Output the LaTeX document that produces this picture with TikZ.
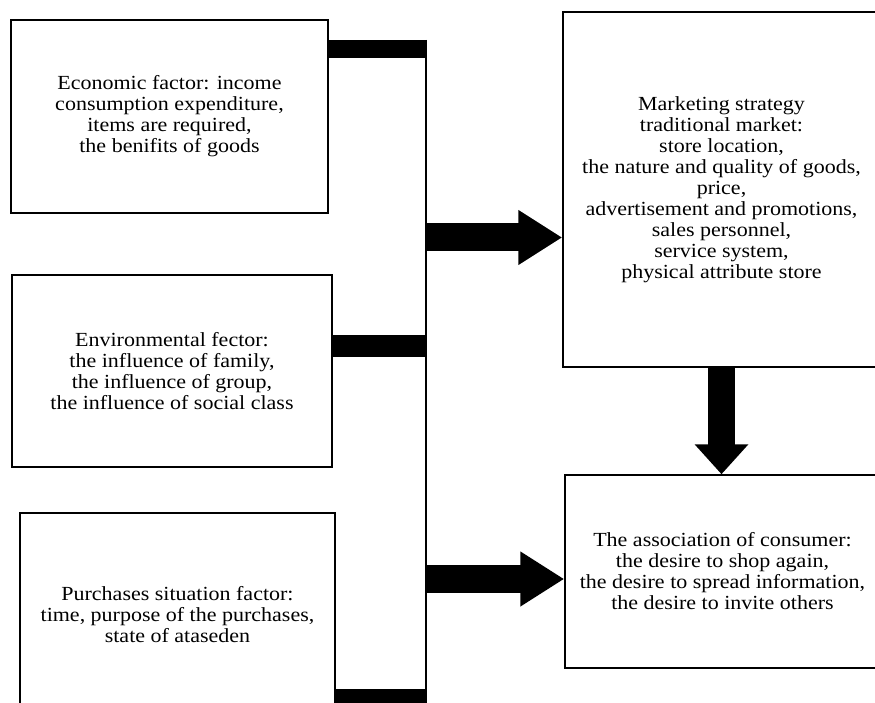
\documentclass[tikz,border=0pt]{standalone}
\usepackage{fontspec}
\setmainfont{Liberation Serif}[FakeStretch=1.1]
\usetikzlibrary{arrows.meta,positioning,calc}

\begin{document}
\begin{tikzpicture}[x=1pt, y=-1pt,
    box/.style={draw, line width=1.5pt, align=center, inner sep=2pt, font=\fontsize{20}{21}\selectfont},
    bar/.style={line width=20pt},
    spine/.style={line width=2pt},
    fat/.style={line width=28pt, -{Triangle[length=44pt,width=52pt]}}
  ]
    \useasboundingbox (0,0) rectangle (875,703);
    \clip (0,0) rectangle (875,703);
    % factors on the left
    \node[box, minimum width=317pt, minimum height=193pt] (econ) at (169.5,116.5) {Economic factor: income\\
      consumption expenditure,\\
      items are required,\\
      the benifits of goods};
    \node[box, minimum width=320pt, minimum height=192pt] (env) at (172,371) {Environmental fector:\\
      the influence of family,\\
      the influence of group,\\
      the influence of social class};
    \node[box, minimum width=315pt, minimum height=204pt] (purch) at (177.5,615) {Purchases situation factor:\\
      time, purpose of the purchases,\\
      state of ataseden};
    % right column
    \node[box, minimum width=317pt, minimum height=355pt] (mkt) at (721.5,189.5) {Marketing strategy\\
      traditional market:\\
      store location,\\
      the nature and quality of goods,\\
      price,\\
      advertisement and promotions,\\
      sales personnel,\\
      service system,\\
      physical attribute store};
    \node[box, minimum width=315pt, minimum height=193pt] (assoc) at (722.5,571.5) {The association of consumer:\\
      the desire to shop again,\\
      the desire to spread information,\\
      the desire to invite others};
    % collecting line
    \coordinate (jtop) at (426,40);
    \coordinate (jbot) at (426,703);
    \draw[spine] (jtop) -- (jbot);
    \coordinate (j1) at (427,49);
    \coordinate (j2) at (427,346);
    \coordinate (j3) at (427,698);
    \draw[bar, line width=18pt] (econ.east |- j1) -- (j1);
    \draw[bar, line width=22pt] (env.east |- j2) -- (j2);
    \draw[bar, line width=18pt] (purch.east |- j3) -- (j3);
    % block arrows
    \coordinate (a1) at (426,237.5);
    \coordinate (a2) at (426,579);
    \draw[fat] (a1) -- (mkt.west |- a1);
    \draw[fat] (a2) -- (assoc.west |- a2);
    \draw[fat, line width=27pt, -{Triangle[length=30pt,width=52pt]}] (mkt.south) -- (mkt.south |- assoc.north);
  \end{tikzpicture}
\end{document}
